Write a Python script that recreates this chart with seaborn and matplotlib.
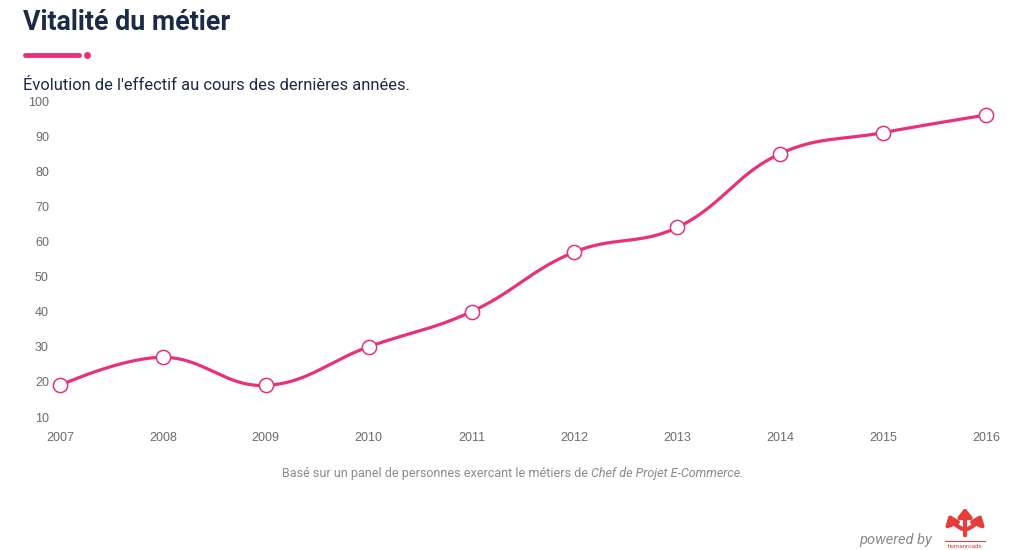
import numpy as np
import pandas as pd
import matplotlib
matplotlib.use("Agg")
import matplotlib.pyplot as plt
import seaborn as sns

# ---- data ----
years = [2007, 2008, 2009, 2010, 2011, 2012, 2013, 2014, 2015, 2016]
effectif = [19, 27, 19, 30, 40, 57, 64, 85, 91, 96]
y_ticks = [10, 20, 30, 40, 50, 60, 70, 80, 90, 100]

title = "Vitalité du métier"
subtitle = "Évolution de l'effectif au cours des dernières années."
foot_a = "Basé sur un panel de personnes exercant le métiers de "
foot_b = "Chef de Projet E-Commerce."

PINK = "#e8317a"
NAVY = "#1c2b45"
GREY = "#6b6b6b"

sns.set_theme(style="white")
plt.rcParams['font.family'] = ['Roboto', 'DejaVu Sans']

fig = plt.figure(figsize=(10.24, 5.5), dpi=100)
W, H = 1024, 550
ax = fig.add_axes([60 / W, (H - 417) / H, 926 / W, 316 / H])

df = pd.DataFrame({"annee": years, "effectif": effectif})

# smooth curve (Chart.js-like tension spline) computed in pixel space
px_x = 926 / 9.0
px_y = 316 / 90.0
P = np.column_stack([np.array(years, float) * px_x, np.array(effectif, float) * px_y])
t = 0.4
n = len(P)
c_prev = P.copy()
c_next = P.copy()
for i in range(1, n - 1):
    d01 = np.hypot(*(P[i] - P[i - 1]))
    d12 = np.hypot(*(P[i + 1] - P[i]))
    s01 = d01 / (d01 + d12)
    s12 = d12 / (d01 + d12)
    c_prev[i] = P[i] - t * s01 * (P[i + 1] - P[i - 1])
    c_next[i] = P[i] + t * s12 * (P[i + 1] - P[i - 1])
curve = []
uu = np.linspace(0, 1, 40)
for i in range(n - 1):
    p0, p1, p2, p3 = P[i], c_next[i], c_prev[i + 1], P[i + 1]
    seg = ((1 - uu) ** 3)[:, None] * p0 + (3 * (1 - uu) ** 2 * uu)[:, None] * p1 \
        + (3 * (1 - uu) * uu ** 2)[:, None] * p2 + (uu ** 3)[:, None] * p3
    curve.append(seg if i == 0 else seg[1:])
curve = np.vstack(curve)
ax.plot(curve[:, 0] / px_x, curve[:, 1] / px_y, color=PINK, lw=2.3,
        solid_capstyle="round", clip_on=False, zorder=2)

sns.scatterplot(data=df, x="annee", y="effectif", ax=ax, s=105, color="white",
                edgecolor=PINK, linewidth=1.1, zorder=3, clip_on=False, legend=False)

ax.set_xlim(2007, 2016)
ax.set_ylim(10, 100)
ax.set_xticks(years)
ax.set_xticklabels([str(y) for y in years])
ax.set_yticks(y_ticks)
ax.set_yticklabels([str(v) for v in y_ticks])
ax.tick_params(axis="both", length=0, labelsize=9, colors=GREY)
ax.tick_params(axis="y", pad=8)
ax.tick_params(axis="x", pad=11)
for lab in ax.get_xticklabels() + ax.get_yticklabels():
    lab.set_fontfamily(['Liberation Sans', 'DejaVu Sans'])
ax.set_xlabel("")
ax.set_ylabel("")
for s in ax.spines.values():
    s.set_visible(False)
ax.grid(False)

# titles
fig.text(23 / W, 1 - 22 / H, title, fontsize=19.3, fontweight="bold", color=NAVY,
         ha="left", va="center")
fig.add_artist(plt.Line2D([25 / W, 79 / W], [1 - 55 / H, 1 - 55 / H], color=PINK,
                          lw=3.5, solid_capstyle="round"))
fig.add_artist(plt.Line2D([87 / W], [1 - 55 / H], color=PINK, marker="o",
                          markersize=4, lw=0))
fig.text(23 / W, 1 - 85 / H, subtitle, fontsize=11.9, color=NAVY, ha="left", va="center")

# footnote with italic part
ta = fig.text(0, 1 - 474 / H, foot_a, fontsize=9, color="#8a8a8a", ha="left", va="center")
tb = fig.text(0, 1 - 474 / H, foot_b, fontsize=9, color="#8a8a8a", ha="left",
              va="center", style="italic")
fig.canvas.draw()
r = fig.canvas.get_renderer()
wa = ta.get_window_extent(r).width
wb = tb.get_window_extent(r).width
x0 = (W - (wa + wb)) / 2 + 1
ta.set_x(x0 / W)
tb.set_x((x0 + wa) / W)

# powered by + logo
fig.text(932 / W, 1 - 540 / H, "powered by", fontsize=10.5, color="#8a8a8a",
         style="italic", ha="right", va="center")
RED = "#e63c3c"
lx = 965
arrow_kw = dict(arrowstyle="-|>,head_width=0.4,head_length=0.5", color=RED, lw=3)
fig.add_artist(matplotlib.patches.FancyArrowPatch((lx / W, 1 - 538 / H), (lx / W, 1 - 505 / H),
                                                  transform=fig.transFigure, mutation_scale=10, **arrow_kw))
fig.add_artist(matplotlib.patches.FancyArrowPatch((lx / W, 1 - 530 / H), (948 / W, 1 - 512 / H),
                                                  transform=fig.transFigure, mutation_scale=10,
                                                  connectionstyle="arc3,rad=-0.25", **arrow_kw))
fig.add_artist(matplotlib.patches.FancyArrowPatch((lx / W, 1 - 530 / H), (982 / W, 1 - 512 / H),
                                                  transform=fig.transFigure, mutation_scale=10,
                                                  connectionstyle="arc3,rad=0.25", **arrow_kw))
fig.add_artist(plt.Line2D([945 / W, 985 / W], [1 - 541 / H, 1 - 541 / H], color=RED, lw=0.8))
fig.text(965 / W, 1 - 546 / H, "humanroads", fontsize=4.5, color=RED, ha="center", va="center")

fig.savefig("out.png", dpi=100)
